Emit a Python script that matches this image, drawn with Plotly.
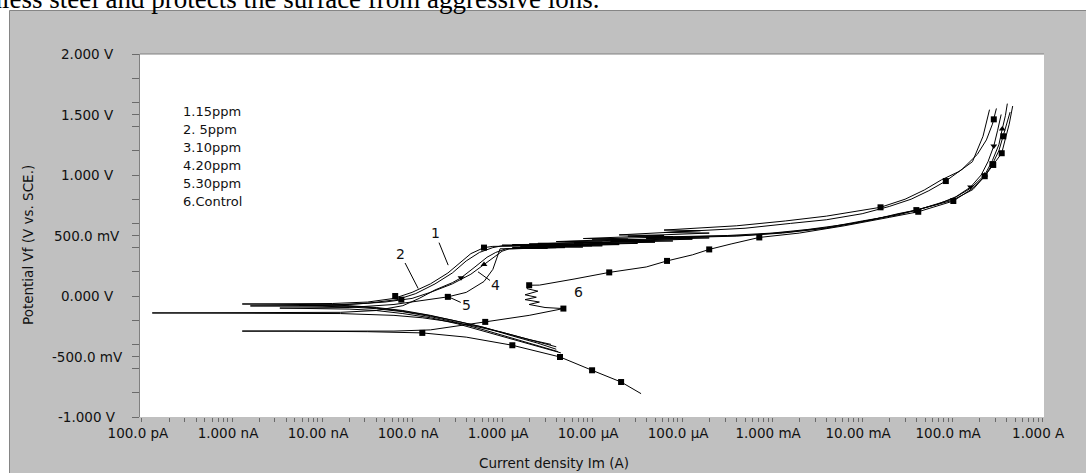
import math
import plotly.graph_objects as go

# ---------------- data (current in A, potential in V) ----------------
c1_i = [4.0e-6, 2.5e-6, 1.3e-6, 6.3e-7, 3.2e-7, 1.6e-7, 7.9e-8, 4.0e-8, 2.0e-8, 1.0e-8, 1.3e-9,
        1.3e-8, 3.2e-8, 6.3e-8, 1.0e-7, 1.6e-7, 2.5e-7, 3.5e-7, 4.5e-7, 6.3e-7, 7.9e-7,
        3.2e-6, 1.0e-6, 6.3e-6, 2.0e-6, 1.3e-5, 4.0e-6, 2.5e-5, 8.0e-6, 6.3e-5, 2.0e-5,
        1.6e-4, 6.3e-5, 4.0e-4, 1.4e-3, 4.0e-3, 8.3e-3, 1.6e-2, 3.0e-2, 4.9e-2, 7.6e-2,
        0.12, 0.168, 0.22, 0.26]
c1_v = [-0.44, -0.39, -0.33, -0.26, -0.21, -0.16, -0.12, -0.095, -0.08, -0.072, -0.066,
        -0.062, -0.05, -0.02, 0.03, 0.10, 0.19, 0.28, 0.35, 0.40, 0.41,
        0.415, 0.42, 0.425, 0.43, 0.445, 0.45, 0.47, 0.475, 0.50, 0.505,
        0.54, 0.545, 0.58, 0.62, 0.66, 0.70, 0.733, 0.80, 0.876, 0.96,
        1.03, 1.11, 1.32, 1.54]

c2_i = [4.2e-6, 2.5e-6, 1.3e-6, 6.3e-7, 3.2e-7, 1.6e-7, 7.9e-8, 4.0e-8, 2.0e-8, 1.0e-8, 1.6e-9,
        1.0e-8, 3.2e-8, 6.8e-8, 1.1e-7, 1.8e-7, 2.8e-7, 4.0e-7, 5.6e-7, 7.9e-7, 1.0e-6,
        4.0e-6, 1.3e-6, 8.0e-6, 2.5e-6, 1.6e-5, 5.0e-6, 3.2e-5, 1.0e-5, 7.9e-5, 2.5e-5,
        2.0e-4, 6.3e-5, 5.0e-4, 1.6e-3, 4.0e-3, 1.0e-2, 2.0e-2, 3.5e-2, 5.5e-2, 8.5e-2,
        0.13, 0.19, 0.24, 0.28, 0.31]
c2_v = [-0.46, -0.41, -0.35, -0.28, -0.22, -0.17, -0.13, -0.105, -0.09, -0.085, -0.082,
        -0.078, -0.06, -0.03, 0.02, 0.10, 0.19, 0.29, 0.36, 0.40, 0.415,
        0.42, 0.425, 0.43, 0.435, 0.445, 0.45, 0.465, 0.47, 0.49, 0.495,
        0.52, 0.525, 0.56, 0.60, 0.63, 0.68, 0.74, 0.80, 0.87, 0.95,
        1.05, 1.17, 1.29, 1.42, 1.55]

c3_i = [3.5e-6, 2.0e-6, 1.0e-6, 5.0e-7, 2.5e-7, 1.3e-7, 6.3e-8, 3.2e-8, 1.6e-8, 1.3e-10,
        1.6e-8, 4.0e-8, 7.9e-8, 1.2e-7, 1.8e-7, 2.8e-7, 3.5e-7, 5.0e-7, 6.8e-7, 8.5e-7, 1.1e-6,
        4.0e-6, 1.6e-6, 1.0e-5, 3.2e-6, 2.0e-5, 6.3e-6, 5.0e-5, 1.6e-5, 1.3e-4, 4.0e-5,
        3.2e-4, 1.0e-3, 2.5e-3, 7.9e-3, 2.0e-2, 4.0e-2, 7.0e-2, 0.11, 0.16, 0.21,
        0.25, 0.29, 0.32, 0.35]
c3_v = [-0.40, -0.36, -0.30, -0.25, -0.21, -0.18, -0.16, -0.15, -0.145, -0.14,
        -0.135, -0.12, -0.08, -0.02, 0.05, 0.11, 0.15, 0.24, 0.32, 0.36, 0.39,
        0.40, 0.405, 0.415, 0.42, 0.435, 0.44, 0.455, 0.46, 0.48, 0.485,
        0.50, 0.52, 0.55, 0.60, 0.66, 0.71, 0.76, 0.82, 0.90, 1.0,
        1.11, 1.24, 1.37, 1.50]

c4_i = [4.0e-6, 2.2e-6, 1.1e-6, 5.6e-7, 2.8e-7, 1.4e-7, 7.0e-8, 3.5e-8, 1.8e-8, 5.6e-9,
        2.0e-8, 5.0e-8, 1.0e-7, 1.6e-7, 2.8e-7, 4.5e-7, 6.3e-7, 8.5e-7, 1.0e-6, 1.2e-6,
        5.0e-6, 1.6e-6, 1.3e-5, 4.0e-6, 3.2e-5, 1.0e-5, 7.9e-5, 2.5e-5, 2.0e-4, 6.3e-5,
        5.0e-4, 1.6e-3, 4.0e-3, 1.0e-2, 2.5e-2, 4.5e-2, 0.1, 0.16, 0.23, 0.28,
        0.33, 0.36, 0.39, 0.41]
c4_v = [-0.42, -0.37, -0.31, -0.25, -0.20, -0.155, -0.12, -0.095, -0.083, -0.076,
        -0.07, -0.05, -0.02, 0.03, 0.10, 0.18, 0.26, 0.33, 0.37, 0.39,
        0.40, 0.405, 0.415, 0.42, 0.435, 0.44, 0.455, 0.46, 0.48, 0.485,
        0.50, 0.53, 0.565, 0.62, 0.67, 0.72, 0.80, 0.89, 1.0, 1.12,
        1.25, 1.38, 1.49, 1.59]

c5_i = [4.5e-6, 2.6e-6, 1.3e-6, 6.3e-7, 3.2e-7, 1.6e-7, 7.9e-8, 4.0e-8, 2.0e-8, 3.4e-9,
        2.0e-8, 6.3e-8, 1.3e-7, 2.5e-7, 4.0e-7, 6.3e-7, 7.9e-7, 8.7e-7, 9.5e-7,
        3.2e-6, 1.3e-6, 7.9e-6, 2.5e-6, 2.0e-5, 6.3e-6, 5.0e-5, 1.6e-5, 1.3e-4, 4.0e-5,
        4.0e-4, 1.3e-3, 4.0e-3, 1.3e-2, 2.5e-2, 4.0e-2, 0.1, 0.17, 0.23, 0.28,
        0.33, 0.37, 0.40, 0.44]
c5_v = [-0.47, -0.42, -0.36, -0.29, -0.23, -0.18, -0.145, -0.12, -0.108, -0.10,
        -0.095, -0.07, -0.04, -0.007, 0.03, 0.12, 0.22, 0.31, 0.39,
        0.395, 0.40, 0.405, 0.41, 0.425, 0.43, 0.445, 0.45, 0.47, 0.475,
        0.495, 0.52, 0.56, 0.63, 0.68, 0.71, 0.79, 0.88, 0.99, 1.09,
        1.20, 1.32, 1.42, 1.52]

c6_i = [3.5e-5, 2.1e-5, 1.0e-5, 4.4e-6, 1.3e-6, 4.0e-7, 1.3e-7, 3.2e-8, 5.0e-9, 1.3e-9,
        1.0e-8, 6.3e-8, 1.6e-7, 3.2e-7, 6.5e-7, 2.0e-6, 4.8e-6,
        3.0e-6, 2.0e-6, 2.6e-6, 1.8e-6, 2.4e-6, 1.8e-6, 2.5e-6, 1.9e-6, 2.0e-6, 2.6e-6,
        6.3e-6, 1.55e-5, 4.0e-5, 6.8e-5, 1.3e-4, 2.0e-4, 3.5e-4, 7.2e-4,
        2.0e-3, 6.3e-3, 2.0e-2, 4.2e-2, 0.103, 0.165, 0.23, 0.286, 0.355, 0.39, 0.43, 0.47]
c6_v = [-0.807, -0.711, -0.614, -0.504, -0.407, -0.34, -0.305, -0.295, -0.29, -0.29,
        -0.29, -0.29, -0.28, -0.25, -0.214, -0.16, -0.104,
        -0.095, -0.07, -0.05, -0.03, -0.01, 0.01, 0.04, 0.06, 0.089, 0.09,
        0.14, 0.195, 0.24, 0.29, 0.34, 0.385, 0.43, 0.484,
        0.52, 0.58, 0.65, 0.696, 0.785, 0.884, 0.99, 1.083, 1.18, 1.30, 1.42, 1.57]

# marker points drawn on the curves
m1_i = [6.5e-8, 6.3e-7, 1.6e-2]
m1_v = [0.0, 0.40, 0.733]
m2_i = [7.6e-8, 8.5e-2, 0.29]
m2_v = [-0.03, 0.95, 1.46]
m3_i = [3.5e-7, 0.16, 0.29]
m3_v = [0.15, 0.90, 1.24]
m4_i = [6.3e-7, 0.23, 0.36]
m4_v = [0.26, 1.0, 1.38]
m5_i = [2.5e-7, 4.0e-2, 0.28, 0.37]
m5_v = [-0.007, 0.71, 1.09, 1.32]
m6_i = [2.1e-5, 1.0e-5, 4.4e-6, 1.3e-6, 1.3e-7, 6.5e-7, 4.8e-6, 2.0e-6, 1.55e-5, 6.8e-5,
        2.0e-4, 7.2e-4, 4.2e-2, 0.103, 0.23, 0.286, 0.355]
m6_v = [-0.711, -0.614, -0.504, -0.407, -0.305, -0.214, -0.104, 0.089, 0.195, 0.29,
        0.385, 0.484, 0.696, 0.785, 0.99, 1.083, 1.18]

legend_lines = ["1.15ppm", "2. 5ppm", "3.10ppm", "4.20ppm", "5.30ppm", "6.Control"]

x_tick_vals = [1e-10, 1e-9, 1e-8, 1e-7, 1e-6, 1e-5, 1e-4, 1e-3, 1e-2, 1e-1, 1.0]
x_tick_text = ["100.0 pA", "1.000 nA", "10.00 nA", "100.0 nA", "1.000 µA", "10.00 µA",
               "100.0 µA", "1.000 mA", "10.00 mA", "100.0 mA", "1.000 A"]
x_minor_mult = [2, 3, 4, 5, 6, 7, 8, 9]
y_tick_vals = [-1.0, -0.5, 0.0, 0.5, 1.0, 1.5, 2.0]
y_tick_text = ["-1.000 V", "-500.0 mV", "0.000 V", "500.0 mV", "1.000 V", "1.500 V", "2.000 V"]
y_minor_vals = [-0.8, -0.6, -0.4, -0.2, 0.2, 0.4, 0.6, 0.8, 1.2, 1.4, 1.6, 1.8]

# ---------------- figure ----------------
W, H = 1086, 473
ML, MR, MT, MB = 140, 42, 54, 56
PW, PH = W - ML - MR, H - MT - MB


def px_x(px):
    return (px - ML) / PW


def px_y(py):
    return (H - MB - py) / PH


FONT = "DejaVu Sans"
TXT = "#111111"
fig = go.Figure()

curves = [(c1_i, c1_v), (c2_i, c2_v), (c3_i, c3_v), (c4_i, c4_v), (c5_i, c5_v), (c6_i, c6_v)]
for ci, cv in curves:
    fig.add_trace(go.Scatter(x=ci, y=cv, mode="lines", line=dict(color="black", width=1),
                             showlegend=False, hoverinfo="skip"))

marks = [(m1_i, m1_v, "square"), (m2_i, m2_v, "square"), (m3_i, m3_v, "triangle-down"),
         (m4_i, m4_v, "triangle-up"), (m5_i, m5_v, "square"), (m6_i, m6_v, "square")]
for mi, mv, sym in marks:
    fig.add_trace(go.Scatter(x=mi, y=mv, mode="markers",
                             marker=dict(symbol=sym, size=6, color="black", line=dict(width=0)),
                             showlegend=False, hoverinfo="skip"))

x_minor = [m * d for d in x_tick_vals[:-1] for m in x_minor_mult]

shapes = [
    # grey instrument panel
    dict(type="rect", xref="paper", yref="paper", x0=px_x(9.5), x1=px_x(W + 5), y0=px_y(H + 5),
         y1=px_y(10.5), fillcolor="#c0c0c0", line=dict(color="#858585", width=1), layer="below"),
    # white plot area
    dict(type="rect", xref="paper", yref="paper", x0=0, x1=1, y0=0, y1=1,
         fillcolor="white", line=dict(width=0), layer="below"),
    dict(type="line", xref="paper", yref="paper", x0=0, x1=1, y0=1, y1=1,
         line=dict(color="#808080", width=1)),
]

annotations = []
# clipped sentence above the chart
annotations.append(dict(text="stainless steel and protects the surface from aggressive ions.",
                        xref="paper", yref="paper", x=px_x(602), y=px_y(15.5), xanchor="right",
                        yanchor="bottom", showarrow=False,
                        font=dict(family="Liberation Serif", size=27, color="black")))
# y tick labels (centred like the instrument software)
for v, t in zip(y_tick_vals, y_tick_text):
    annotations.append(dict(text=t, xref="paper", yref="y", x=px_x(87), y=v, xanchor="center",
                            yanchor="middle", showarrow=False,
                            font=dict(family=FONT, size=13.5, color=TXT)))
# axis titles
annotations.append(dict(text="Current density Im (A)", xref="paper", yref="paper",
                        x=px_x(554), y=px_y(463), xanchor="center", yanchor="middle",
                        showarrow=False, font=dict(family=FONT, size=13.5, color=TXT)))
annotations.append(dict(text="Potential Vf (V vs. SCE.)", xref="paper", yref="paper",
                        x=px_x(28), y=px_y(245), xanchor="center", yanchor="middle",
                        textangle=-90, showarrow=False,
                        font=dict(family=FONT, size=13.5, color=TXT)))
# legend block
for k, t in enumerate(legend_lines):
    annotations.append(dict(text=t, xref="paper", yref="paper", x=px_x(181), y=px_y(111 + 18 * k),
                            xanchor="left", yanchor="middle", showarrow=False,
                            font=dict(family=FONT, size=13, color=TXT)))
# curve labels with leader lines
labels = [("1", 2.52e-7, 0.255, -13, -32), ("2", 1.17e-7, 0.062, -18, -35),
          ("4", 5.4e-7, 0.20, 18, 13), ("5", 2.31e-7, 0.007, 22, 10)]
for t, xi, yv, ax, ay in labels:
    annotations.append(dict(text=t, x=math.log10(xi), y=yv, xref="x", yref="y", ax=ax, ay=ay,
                            showarrow=True, arrowhead=0, arrowwidth=1, arrowcolor="black",
                            standoff=0, font=dict(family=FONT, size=14, color=TXT)))
annotations.append(dict(text="6", x=math.log10(7.0e-6), y=0.034, xref="x", yref="y",
                        showarrow=False, font=dict(family=FONT, size=14, color=TXT)))

fig.update_layout(
    width=W, height=H,
    margin=dict(l=ML, r=MR, t=MT, b=MB, pad=0),
    paper_bgcolor="white",
    plot_bgcolor="rgba(0,0,0,0)",
    showlegend=False,
    hovermode=False,
    shapes=shapes,
    annotations=annotations,
    xaxis=dict(type="log", range=[-10.022, 0.02], showgrid=False, zeroline=False,
               showline=False, ticks="outside", ticklen=4, tickcolor="#6a6a6a",
               tickvals=x_tick_vals, ticktext=x_tick_text, ticklabelshift=-4,
               tickfont=dict(family=FONT, size=13.5, color=TXT),
               minor=dict(ticks="outside", ticklen=4, tickcolor="#6a6a6a", tickvals=x_minor,
                          showgrid=False)),
    yaxis=dict(range=[-1.0, 2.0], showgrid=False, zeroline=False, showline=True,
               linecolor="#808080", linewidth=1, ticks="outside", ticklen=7,
               tickcolor="#6a6a6a", tickvals=y_tick_vals, showticklabels=False,
               minor=dict(ticks="outside", ticklen=7, tickcolor="#6a6a6a",
                          tickvals=y_minor_vals, showgrid=False)),
)

fig.write_html("out.html", config={"displayModeBar": False, "staticPlot": True},
               post_script="document.body.style.margin='0px';document.body.style.overflow='hidden';")
